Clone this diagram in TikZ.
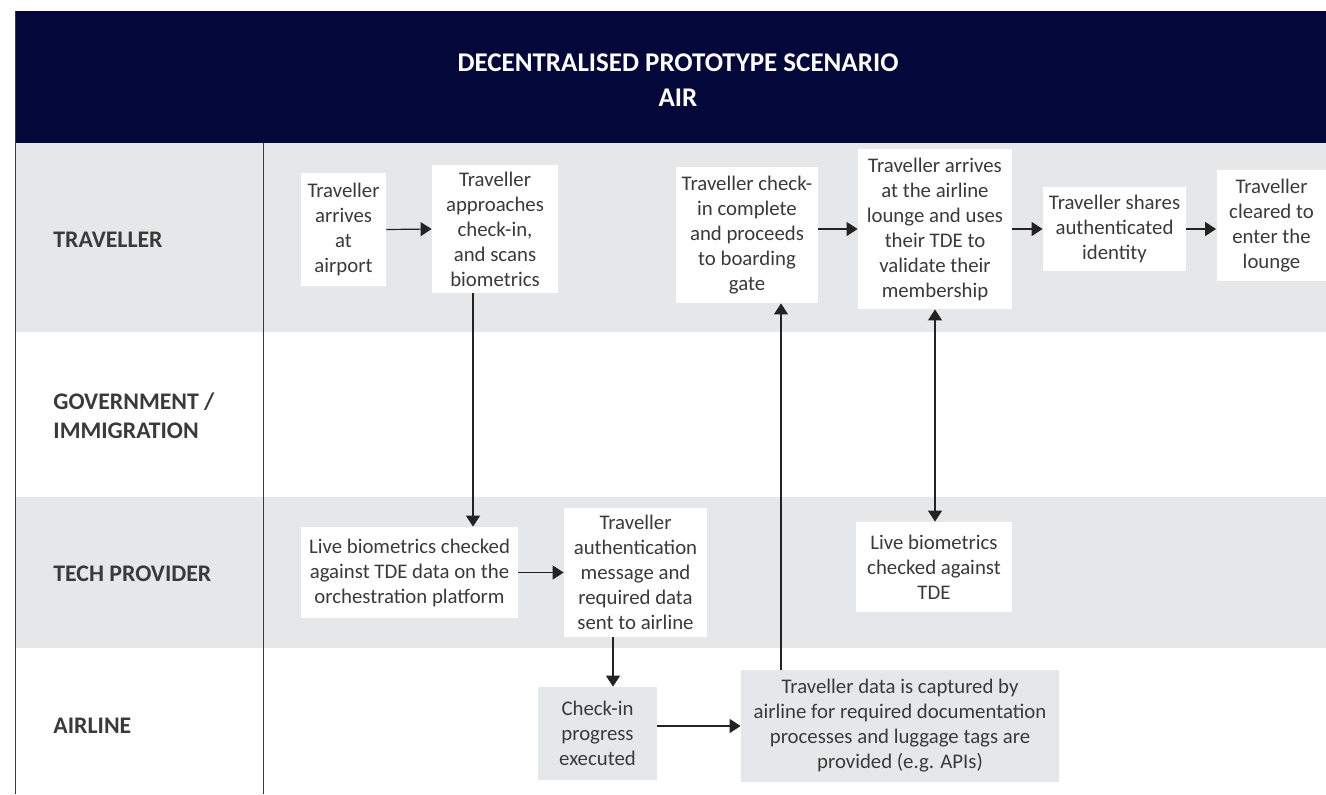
\documentclass[tikz,border=0pt]{standalone}
\usepackage{fontspec}
\setmainfont{Carlito}
\usetikzlibrary{arrows.meta}
\definecolor{navy}{RGB}{3,7,58}
\definecolor{lanegray}{RGB}{230,231,232}
\definecolor{ink}{RGB}{58,58,58}
\definecolor{wire}{RGB}{35,35,35}
\tikzset{
	box/.style={fill=white, text=ink, align=center, inner sep=0pt, font=\fontsize{10.4}{12.5}\selectfont},
	gbox/.style={box, fill=lanegray},
	lanelabel/.style={anchor=west, align=left, inner sep=0pt, text=ink, font=\fontsize{11.9}{14.5}\selectfont\bfseries},
	tip/.style={-{Triangle[length=5.5pt,width=7pt]}},
	arr/.style={draw=wire, line width=0.6pt, tip},
}
\begin{document}
\begin{tikzpicture}[x=0.5pt, y=-0.5pt, line join=round]
	\useasboundingbox (0,0) rectangle (1326,794);
	% lanes and header
	\fill[lanegray] (15,143) rectangle (1326,332);
	\fill[lanegray] (15,497) rectangle (1326,648);
	\fill[navy] (15,11) rectangle (1326,143);
	\draw[ink, line width=0.5pt] (15,11) -- (15,794);
	\draw[ink, line width=0.5pt] (263,143) -- (263,794);
	\node[text=white, align=center, font=\fontsize{13.5}{17.5}\selectfont\bfseries] (title) at (678,80)
		{DECENTRALISED PROTOTYPE SCENARIO\\AIR};
	\node[lanelabel] (ltrav) at (53,240) {TRAVELLER};
	\node[lanelabel] (lgov) at (53,416) {GOVERNMENT /\\IMMIGRATION};
	\node[lanelabel] (ltech) at (53,574) {TECH PROVIDER};
	\node[lanelabel] (lair) at (53,726) {AIRLINE};
	% elbow columns
	\path
	(473,0) coordinate (k1)
	(613,0) coordinate (k2)
	(781,0) coordinate (k3)
	;
	% traveller
	\node[box, minimum width=42.5pt, minimum height=56.5pt] (arrive) at (343.5,229.5)
		{Traveller\\arrives\\at\\airport};
	\node[box, minimum width=63pt, minimum height=64pt] (approach) at (495,229)
		{Traveller\\approaches\\check-in,\\and scans\\biometrics};
	\node[box, minimum width=71pt, minimum height=68pt] (gate) at (747,235)
		{Traveller check-\\in complete\\and proceeds\\to boarding\\gate};
	\node[box, minimum width=77pt, minimum height=80pt] (lounge) at (935,229)
		{Traveller arrives\\at the airline\\lounge and uses\\their TDE to\\validate their\\membership};
	\node[box, minimum width=71.5pt, minimum height=42pt] (share) at (1114.5,229)
		{Traveller shares\\authenticated\\identity};
	\node[box, minimum width=55pt, minimum height=55.5pt] (cleared) at (1271.5,225.5)
		{Traveller\\cleared to\\enter the\\lounge};
	% tech provider
	\node[box, minimum width=108.5pt, minimum height=45.5pt] (live1) at (409.5,572.5)
		{Live biometrics checked\\against TDE data on the\\orchestration platform};
	\node[box, minimum width=71.5pt, minimum height=64.5pt] (auth) at (635.5,572.5)
		{Traveller\\authentication\\message and\\required data\\sent to airline};
	\node[box, minimum width=78pt, minimum height=45pt] (live2) at (934,567)
		{Live biometrics\\checked against\\TDE};
	% airline
	\node[gbox, minimum width=59.5pt, minimum height=46.5pt] (progress) at (597.5,733.5)
		{Check-in\\progress\\executed};
	\node[gbox, minimum width=159pt, minimum height=56pt] (captured) at (900,726)
		{Traveller data is captured by\\airline for required documentation\\processes and luggage tags are\\provided (e.g. APIs)};
	% connectors
	\draw[arr] (arrive.east) -- (approach.west);
	\draw[arr] (gate.east |- lounge) -- (lounge.west);
	\draw[arr] (lounge.east) -- (share.west);
	\draw[arr] (share.east) -- (share.east -| cleared.west);
	\draw[arr] (approach.south -| k1) -- (live1.north -| k1);
	\draw[arr] (live1.east) -- (auth.west);
	\draw[arr] (auth.south -| k2) -- (progress.north -| k2);
	\draw[arr] (progress.east |- captured) -- (captured.west);
	\draw[arr] (captured.north -| k3) -- (gate.south -| k3);
	\draw[arr, {Triangle[length=5.5pt,width=7pt]}-{Triangle[length=5.5pt,width=7pt]}] (lounge.south) -- (lounge.south |- live2.north);
\end{tikzpicture}
\end{document}
